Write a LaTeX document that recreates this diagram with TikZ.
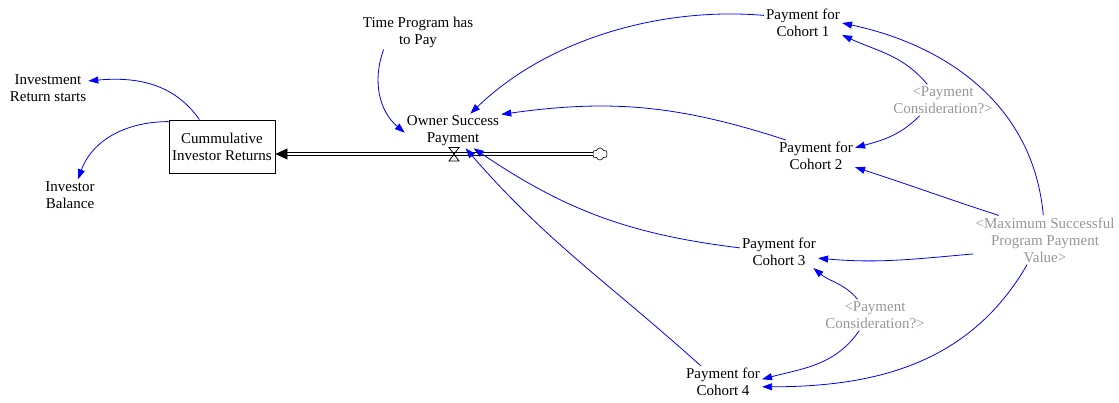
\documentclass[tikz,border=0pt]{standalone}
\usepackage{fontspec}
\setmainfont{Liberation Serif}
\usetikzlibrary{arrows.meta,shapes.symbols}
\definecolor{linkblue}{RGB}{0,0,255}
\definecolor{shadowgray}{RGB}{150,150,150}
\begin{document}
\begin{tikzpicture}[x=1pt,y=1pt,
  font=\fontsize{15}{17}\selectfont,
  var/.style={align=center, inner sep=2pt},
  shadow/.style={var, text=shadowgray},
  stock/.style={draw, line width=0.8pt, minimum width=106pt, minimum height=53pt,
    align=center, inner sep=1pt},
  link/.style={draw=linkblue, line width=0.8pt, -{Triangle[length=10pt,width=7pt]}},
  pipe/.style={double, double distance=2pt, line width=0.8pt,
    -{Triangle[length=12pt,width=11pt]}},
]
\useasboundingbox (0,0) rectangle (1119,-402);

% stock and its outputs
\node[stock] (cir) at (222,-146.5) {Cummulative\\Investor Returns};
\node[var] (ir) at (48,-88) {Investment\\Return starts};
\node[var] (ib) at (70,-195) {Investor\\Balance};

% flow into the stock
\node[var] (tp) at (418,-32) {Time Program has\\to Pay};
\node[var] (osp) at (453,-131) {Owner Success\\Payment};
\node[cloud, cloud puffs=6, cloud puff arc=140, aspect=1.25, draw, line width=0.6pt,
  minimum width=15pt, minimum height=12pt, inner sep=0pt] (src) at (600,-154) {};
\coordinate (vv) at (454,-154);

% cohort payments
\node[var] (c1) at (803,-23) {Payment for\\Cohort 1};
\node[shadow] (pc1) at (943,-100) {<Payment\\Consideration?>};
\node[var] (c2) at (816,-156) {Payment for\\Cohort 2};
\node[shadow] (mx) at (1045,-240) {<Maximum Successful\\Program Payment\\Value>};
\node[var] (c3) at (779,-252) {Payment for\\Cohort 3};
\node[shadow] (pc2) at (875,-315) {<Payment\\Consideration?>};
\node[var] (c4) at (723,-382) {Payment for\\Cohort 4};

% pipe and valve
\draw[pipe] (src.west) -- (cir.east |- src.west);
\draw[line width=0.8pt] ([shift={(-5,6.5)}]vv) -- ([shift={(5,6.5)}]vv)
  -- ([shift={(-5,-7)}]vv) -- ([shift={(5,-7)}]vv) -- cycle;

% information links
\draw[link] (cir.130) to[out=125,in=5] (ir.10);
\draw[link] (cir.155) to[out=180,in=70] (ib.63);
\draw[link] (tp.207) to[out=250,in=140] (osp.182);
\draw[link] (c1.169) to[out=175,in=44,out distance=100pt,in distance=110pt] (osp.45);
\draw[link] (c2.152) to[out=162,in=8] (osp.19);
\draw[link] (c3.174) to[out=173,in=-34] (osp.-40);
\draw[link] (c4.144) to[out=138,in=-49] (osp.-54);
\draw[link] (pc1.135) to[out=130,in=-25] (c1.-17);
\draw[link] (pc1.214) to[out=225,in=15] (c2.12);
\draw[link] (mx.94) to[out=95,in=-12] (c1.0);
\draw[link] (mx.152) to[out=162,in=-18] (c2.-16);
\draw[link] (mx.191) to[out=185,in=-5] (c3.-9);
\draw[link] (mx.234) to[out=240,in=0] (c4.-7);
\draw[link] (pc2.138) to[out=130,in=-40] (c3.-25);
\draw[link] (pc2.225) to[out=235,in=15] (c4.4);
\end{tikzpicture}
\end{document}
